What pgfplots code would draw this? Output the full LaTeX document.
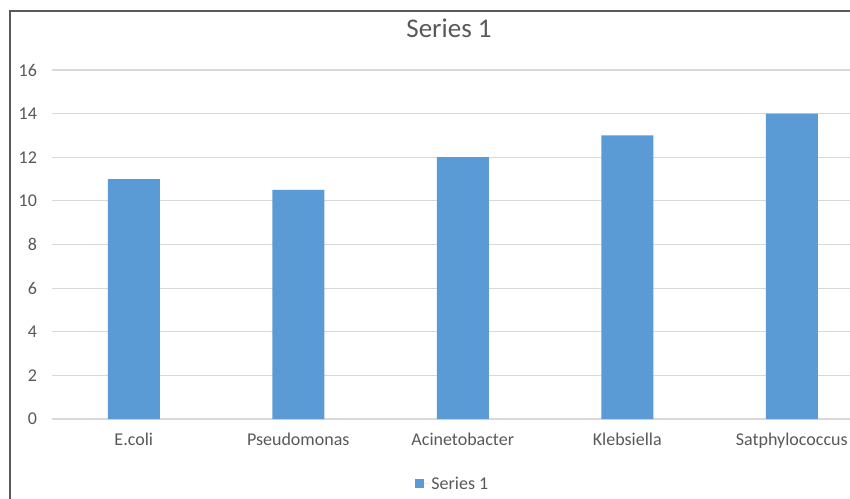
\documentclass[border=0pt]{standalone}
\usepackage{pgfplots}
\pgfplotsset{compat=1.18}
\usepackage{fontspec}
\setmainfont{Carlito}
\definecolor{barblue}{HTML}{5B9BD5}
\definecolor{txtgray}{HTML}{595959}
\definecolor{gridgray}{HTML}{D9D9D9}
\definecolor{framegray}{HTML}{595959}
\begin{document}
\begin{tikzpicture}[x=1pt,y=1pt]
\path[use as bounding box] (0,0) rectangle (850,498);
\begin{scope}
\clip (0,0) rectangle (850,498);
\fill[white] (0,0) rectangle (850,498);
\draw[framegray, line width=1.5pt] (10,-5) -- (10,487) -- (860,487);
\begin{axis}[
  at={(51.5pt,79pt)}, anchor=south west,
  scale only axis,
  width=822.5pt, height=349pt,
  xmin=-0.5, xmax=4.5,
  ymin=0, ymax=16,
  ytick={0,2,...,16},
  xtick={0,1,2,3,4},
  xticklabels={E.coli,Pseudomonas,Acinetobacter,Klebsiella,Satphylococcus},
  axis line style={draw=none},
  major tick length=0pt,
  ymajorgrids,
  grid style={gridgray, line width=1.2pt},
  tick label style={font=\fontsize{18}{20}\selectfont, text=txtgray},
  /pgf/number format/assume math mode=true,
  yticklabel style={xshift=-11pt},
  xticklabel style={yshift=-10pt},
  clip=false,
  legend style={at={(0.488,-0.186)}, anchor=center, draw=none, fill=none,
    font=\fontsize{18}{20}\selectfont, text=txtgray, inner sep=0pt},
  legend image code/.code={\fill[barblue] (0pt,-4.5pt) rectangle (9pt,4.5pt); \path (0pt,0pt) -- (14pt,0pt);},
]
\addplot[ybar, bar width=52pt, fill=barblue, draw=none] coordinates {
  (0,11) (1,10.5) (2,12) (3,13) (4,14)
};
\addlegendentry{Series 1}
\end{axis}
\node[text=txtgray, font=\fontsize{27}{30}\selectfont] at (449,470) {Series 1};
\end{scope}
\end{tikzpicture}
\end{document}
